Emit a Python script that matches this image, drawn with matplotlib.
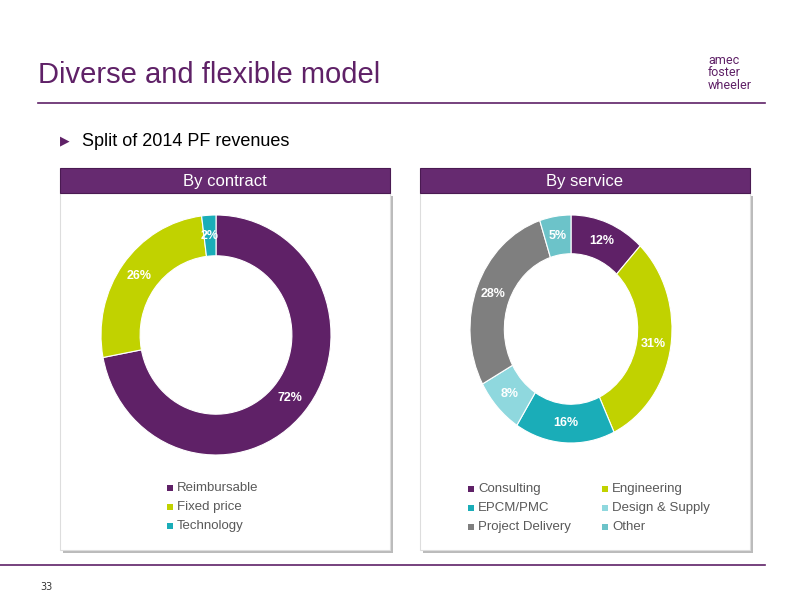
import matplotlib
matplotlib.use("Agg")
import matplotlib.pyplot as plt
from matplotlib.patches import Rectangle
import numpy as np

contract_labels = ["Reimbursable", "Fixed price", "Technology"]
contract_values = [72, 26, 2]
service_labels = ["Consulting", "Engineering", "EPCM/PMC", "Design & Supply", "Project Delivery", "Other"]
service_values = [12, 31, 16, 8, 28, 5]

PURPLE = "#5F2167"
c_colors = [PURPLE, "#C1D200", "#1AADB8"]
s_colors = [PURPLE, "#C1D200", "#1AADB8", "#8FD8DE", "#7F7F7F", "#6CC3C9"]

W, H = 800, 600
plt.rcParams['font.family'] = ['Liberation Sans', 'DejaVu Sans']
fig = plt.figure(figsize=(8, 6), dpi=100)
fig.patch.set_facecolor("white")

def fx(x): return x / W
def fy(y): return 1 - y / H
def rect(x0, y0, x1, y1, **kw):
    fig.add_artist(Rectangle((fx(x0), fy(y1)), fx(x1 - x0), fy(y0) - fy(y1),
                             transform=fig.transFigure, **kw))

fig.text(fx(38), fy(75), "Diverse and flexible model", fontsize=21, color=PURPLE, va="center")
fig.add_artist(plt.Line2D([fx(38), fx(765)], [fy(103), fy(103)], color=PURPLE, lw=1.2))
fig.add_artist(plt.Line2D([fx(0), fx(765)], [fy(565), fy(565)], color=PURPLE, lw=1.2))
fig.text(fx(40), fy(587), "33", fontsize=7, color="#333333", va="center", family="DejaVu Sans")
fig.text(fx(708), fy(73), "amec\nfoster\nwheeler", fontsize=9, color=PURPLE, va="center",
         linespacing=0.95, family="Roboto")
fig.text(fx(60), fy(141), "\u25B6", fontsize=9, color=PURPLE, va="center", family="DejaVu Sans")
fig.text(fx(82), fy(141), "Split of 2014 PF revenues", fontsize=13, color="black", va="center")

def panel(x0, title):
    rect(x0 + 3, 196, x0 + 333, 553, facecolor="#BBBBBB", edgecolor="none", zorder=0)
    rect(x0, 193, x0 + 330, 550, facecolor="white", edgecolor="#DDDDDD", lw=0.8, zorder=1)
    rect(x0, 168, x0 + 330, 193, facecolor="#662A70", edgecolor="#4A1A52", lw=0.8, zorder=2)
    fig.text(fx(x0 + 165), fy(181), title, fontsize=12, color="white", ha="center", va="center", zorder=3)

panel(60, "By contract")
panel(420, "By service")

def donut(cx, cy, rx, ry, values, colors):
    ax = fig.add_axes([fx(cx - rx), fy(cy + ry), fx(2 * rx), fy(cy - ry) - fy(cy + ry)])
    ax.set_zorder(10)
    ax.patch.set_alpha(0)
    ax.pie(values, colors=colors, startangle=90, counterclock=False,
           wedgeprops=dict(width=0.34, edgecolor="white", linewidth=0.8))
    ang = 90.0
    for v in values:
        mid = np.deg2rad(ang - v * 3.6 / 2)
        ang -= v * 3.6
        rr = 0.83
        ax.text(rr * np.cos(mid), rr * np.sin(mid), f"{v}%", color="white", fontsize=9,
                fontweight="bold", ha="center", va="center")
    ax.set_xlim(-1, 1); ax.set_ylim(-1, 1)
    ax.set_aspect("auto")
    ax.axis("off")

donut(216, 335, 115, 120, contract_values, c_colors)
donut(571, 329, 101, 114, service_values, s_colors)

def legend_item(x, y, label, color):
    rect(x, y - 3, x + 6, y + 3, facecolor=color, edgecolor="none", zorder=5)
    fig.text(fx(x + 10), fy(y), label, fontsize=9.5, color="#595959", va="center", zorder=5)

for i, (lab, col) in enumerate(zip(contract_labels, c_colors)):
    legend_item(167, 488 + 19 * i, lab, col)
for i, (lab, col) in enumerate(zip(service_labels, s_colors)):
    legend_item(468 + 134 * (i % 2), 489 + 19 * (i // 2), lab, col)

fig.savefig("out.png", dpi=100)
